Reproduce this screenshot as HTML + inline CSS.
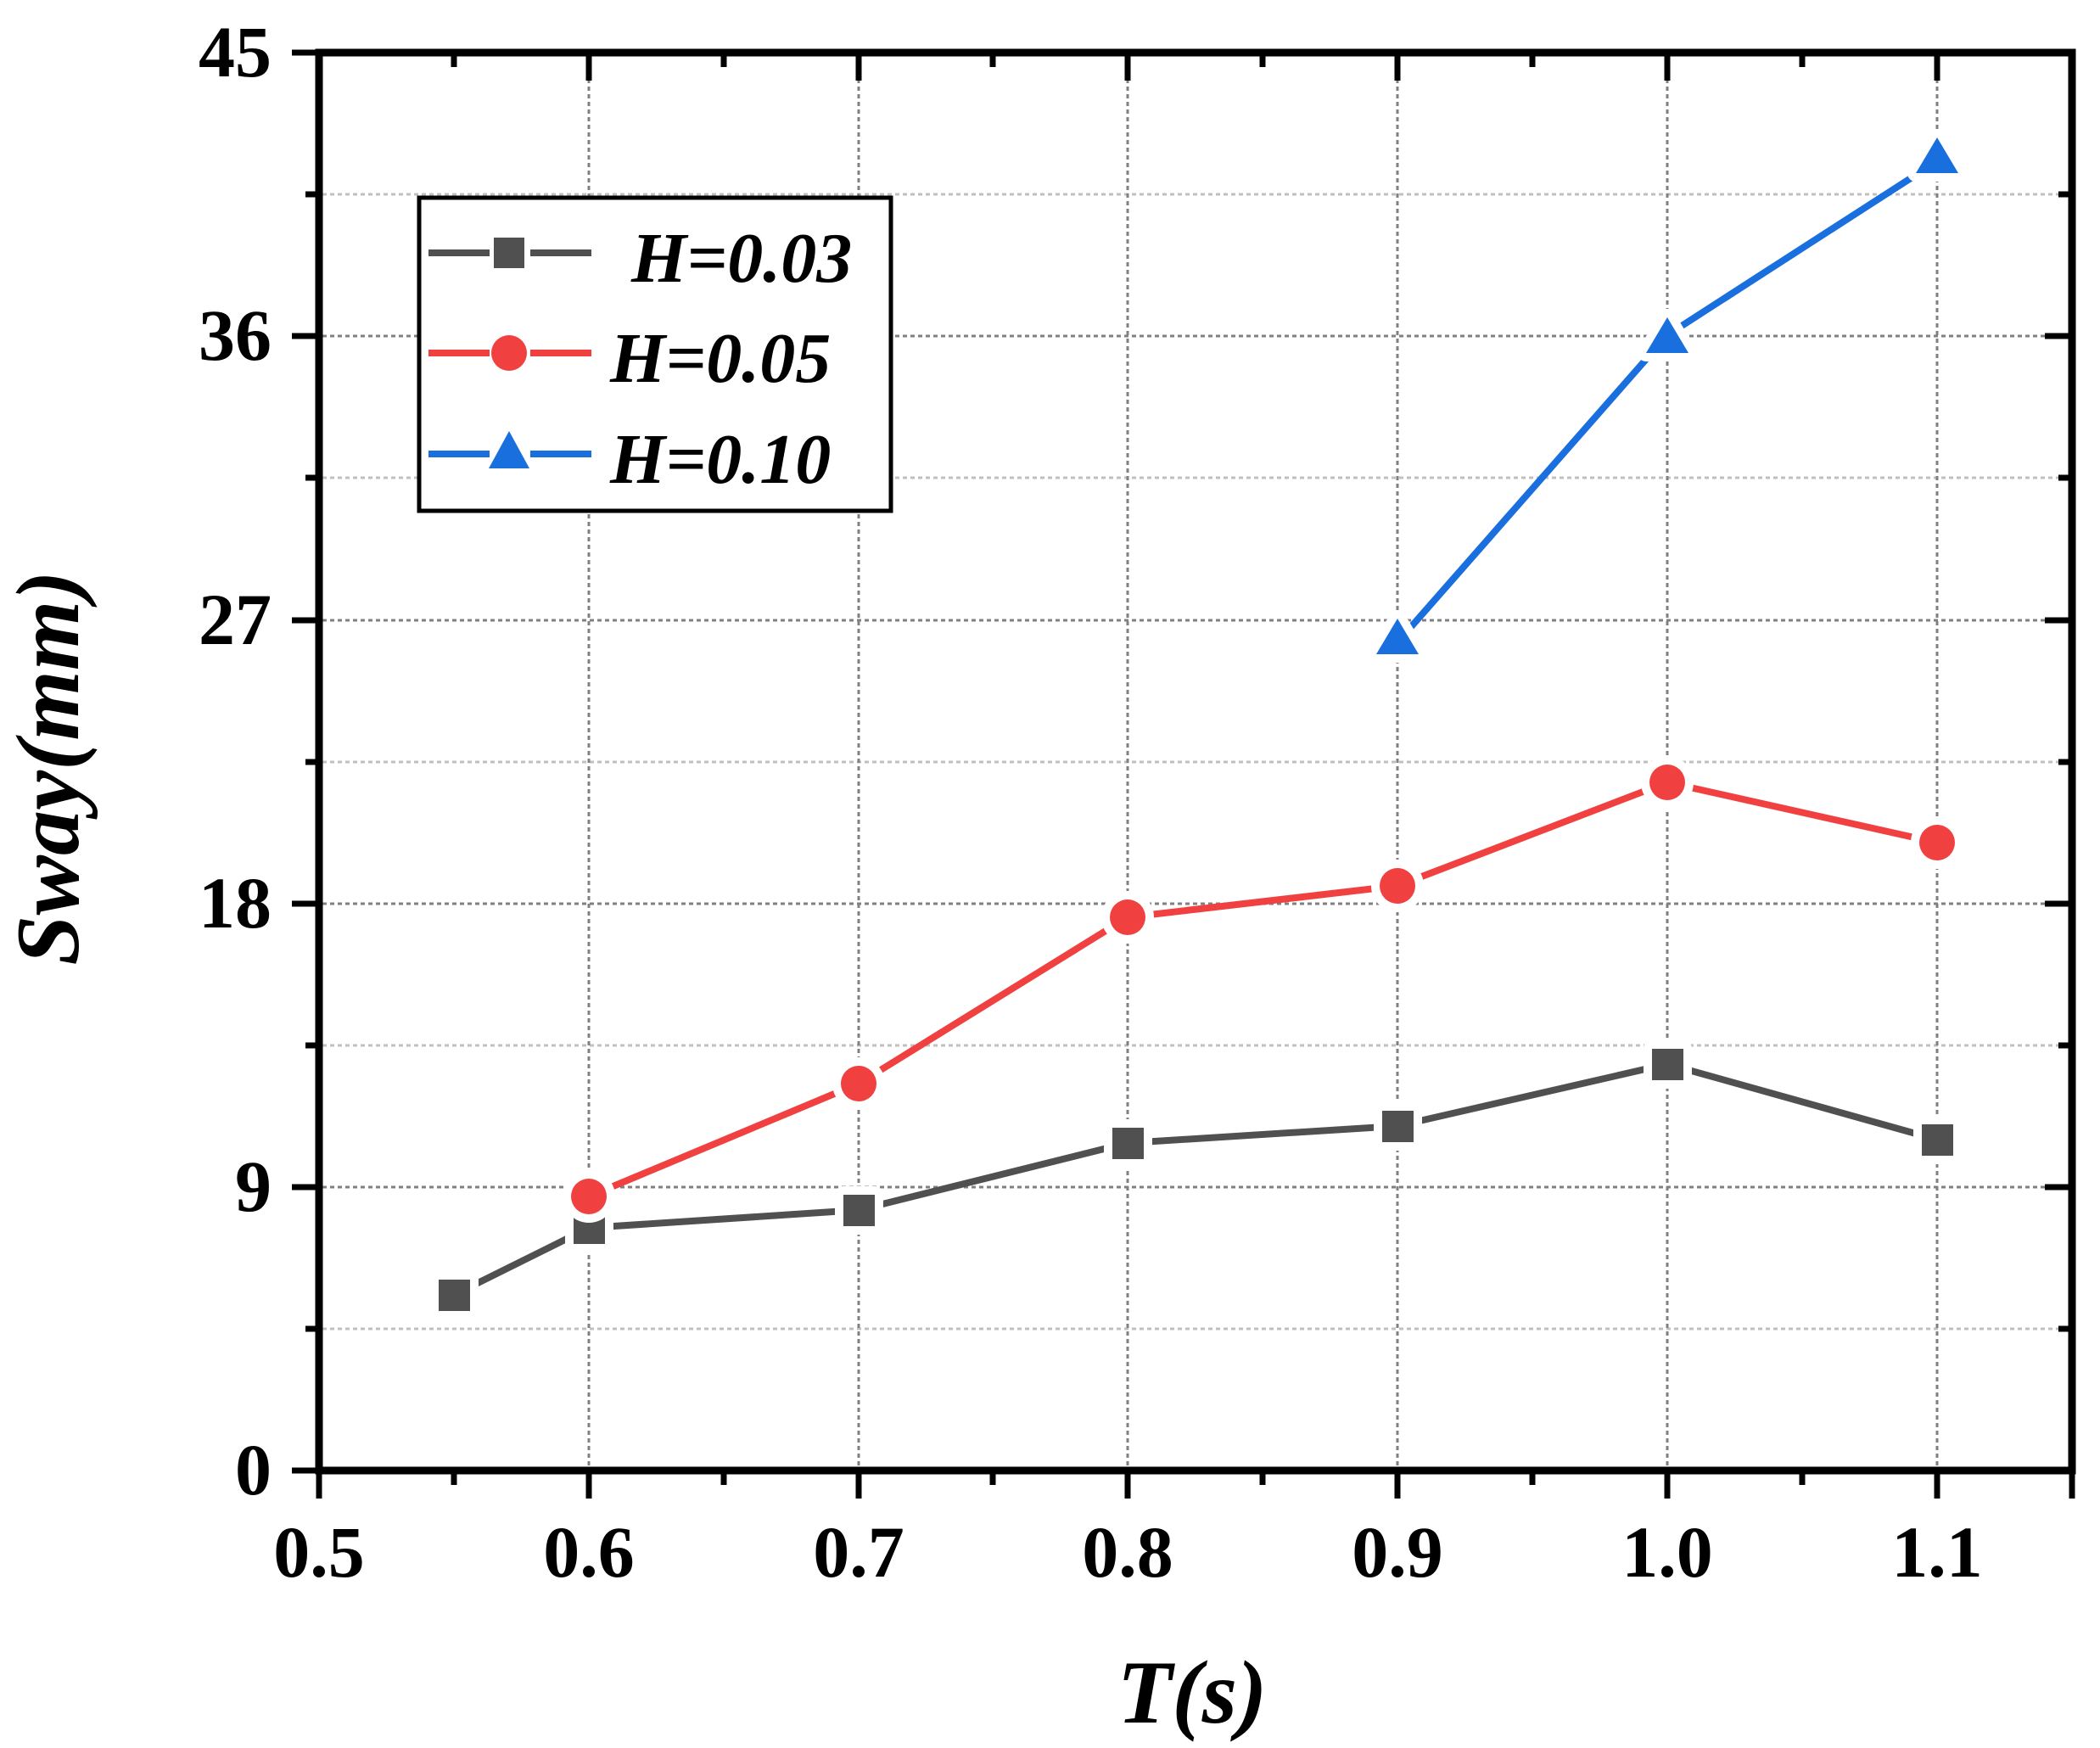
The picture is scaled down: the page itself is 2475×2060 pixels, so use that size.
<!DOCTYPE html>
<html><head><meta charset="utf-8"><style>html,body{margin:0;padding:0;background:#fff}
svg text{font-family:"Liberation Serif","Times New Roman",serif;font-weight:bold}</style></head>
<body>
<svg width="2475" height="2055" viewBox="0 0 2475 2055" xmlns="http://www.w3.org/2000/svg">
<g stroke-width="3" stroke-dasharray="5,4">
<g stroke="#c0c0c0">
<line x1="380" x2="2436" y1="229" y2="229"/>
<line x1="380" x2="2436" y1="563" y2="563"/>
<line x1="380" x2="2436" y1="898" y2="898"/>
<line x1="380" x2="2436" y1="1232" y2="1232"/>
<line x1="380" x2="2436" y1="1566" y2="1566"/>
</g>
<g stroke="#808080">
<line x1="380" x2="2436" y1="396" y2="396"/>
<line x1="380" x2="2436" y1="731" y2="731"/>
<line x1="380" x2="2436" y1="1065" y2="1065"/>
<line x1="380" x2="2436" y1="1399" y2="1399"/>
<line x1="694" x2="694" y1="66" y2="1729"/>
<line x1="1012" x2="1012" y1="66" y2="1729"/>
<line x1="1329" x2="1329" y1="66" y2="1729"/>
<line x1="1647" x2="1647" y1="66" y2="1729"/>
<line x1="1965" x2="1965" y1="66" y2="1729"/>
<line x1="2283" x2="2283" y1="66" y2="1729"/>
</g>
</g>
<rect x="376" y="62" width="2066" height="1671" fill="none" stroke="#000" stroke-width="9"/>
<g stroke="#000" stroke-width="7">
<line x1="376" x2="376" y1="1733" y2="1766"/><line x1="694" x2="694" y1="1733" y2="1766"/><line x1="1012" x2="1012" y1="1733" y2="1766"/><line x1="1329" x2="1329" y1="1733" y2="1766"/><line x1="1647" x2="1647" y1="1733" y2="1766"/><line x1="1965" x2="1965" y1="1733" y2="1766"/><line x1="2283" x2="2283" y1="1733" y2="1766"/><line x1="2442" x2="2442" y1="1733" y2="1766"/>
<line x1="535" x2="535" y1="1733" y2="1750"/><line x1="853" x2="853" y1="1733" y2="1750"/><line x1="1170" x2="1170" y1="1733" y2="1750"/><line x1="1488" x2="1488" y1="1733" y2="1750"/><line x1="1806" x2="1806" y1="1733" y2="1750"/><line x1="2124" x2="2124" y1="1733" y2="1750"/>
<line x1="694" x2="694" y1="62" y2="95"/><line x1="1012" x2="1012" y1="62" y2="95"/><line x1="1329" x2="1329" y1="62" y2="95"/><line x1="1647" x2="1647" y1="62" y2="95"/><line x1="1965" x2="1965" y1="62" y2="95"/><line x1="2283" x2="2283" y1="62" y2="95"/>
<line x1="535" x2="535" y1="62" y2="79"/><line x1="853" x2="853" y1="62" y2="79"/><line x1="1170" x2="1170" y1="62" y2="79"/><line x1="1488" x2="1488" y1="62" y2="79"/><line x1="1806" x2="1806" y1="62" y2="79"/><line x1="2124" x2="2124" y1="62" y2="79"/>
<line x1="344" x2="376" y1="62" y2="62"/><line x1="344" x2="376" y1="396" y2="396"/><line x1="344" x2="376" y1="731" y2="731"/><line x1="344" x2="376" y1="1065" y2="1065"/><line x1="344" x2="376" y1="1399" y2="1399"/><line x1="344" x2="376" y1="1733" y2="1733"/>
<line x1="360" x2="376" y1="229" y2="229"/><line x1="360" x2="376" y1="563" y2="563"/><line x1="360" x2="376" y1="898" y2="898"/><line x1="360" x2="376" y1="1232" y2="1232"/><line x1="360" x2="376" y1="1566" y2="1566"/>
<line x1="2410" x2="2442" y1="396" y2="396"/><line x1="2410" x2="2442" y1="731" y2="731"/><line x1="2410" x2="2442" y1="1065" y2="1065"/><line x1="2410" x2="2442" y1="1399" y2="1399"/>
<line x1="2426" x2="2442" y1="229" y2="229"/><line x1="2426" x2="2442" y1="563" y2="563"/><line x1="2426" x2="2442" y1="898" y2="898"/><line x1="2426" x2="2442" y1="1232" y2="1232"/><line x1="2426" x2="2442" y1="1566" y2="1566"/>
</g>
<g font-size="86" text-anchor="end">
<text x="320" y="90">45</text><text x="320" y="424">36</text><text x="320" y="759">27</text><text x="320" y="1093">18</text><text x="320" y="1427">9</text><text x="320" y="1761">0</text>
</g>
<g font-size="86" text-anchor="middle">
<text x="376" y="1858">0.5</text><text x="694" y="1858">0.6</text><text x="1012" y="1858">0.7</text><text x="1329" y="1858">0.8</text><text x="1647" y="1858">0.9</text><text x="1965" y="1858">1.0</text><text x="2283" y="1858">1.1</text>
</g>
<text x="1405" y="2030" font-size="106" font-style="italic" text-anchor="middle">T(s)</text>
<text transform="translate(92,905) rotate(-90)" font-size="106" font-style="italic" text-anchor="middle">Sway(mm)</text>
<g fill="none" stroke-width="8">
<polyline stroke="#505050" points="535,1526 694,1447 1012,1426 1329,1347 1647,1327 1965,1254 2283,1343"/>
<polyline stroke="#f04040" points="694,1410 1012,1277 1329,1081 1647,1044 1965,922 2283,993"/>
<polyline stroke="#1a6fdf" points="1647,757 1965,395 2283,190"/>
</g>
<g stroke="#fff" stroke-width="20" paint-order="stroke" stroke-linejoin="round">
<g fill="#505050">
<rect x="517" y="1508" width="37" height="37"/><rect x="676" y="1429" width="37" height="37"/><rect x="994" y="1408" width="37" height="37"/><rect x="1311" y="1329" width="37" height="37"/><rect x="1629" y="1309" width="37" height="37"/><rect x="1947" y="1236" width="37" height="37"/><rect x="2265" y="1325" width="37" height="37"/>
</g>
<g fill="#f04040">
<circle cx="694" cy="1410" r="21"/><circle cx="1012" cy="1277" r="21"/><circle cx="1329" cy="1081" r="21"/><circle cx="1647" cy="1044" r="21"/><circle cx="1965" cy="922" r="21"/><circle cx="2283" cy="993" r="21"/>
</g>
<g fill="#1a6fdf">
<polygon points="1647,729 1622,771 1672,771"/><polygon points="1965,374 1940,416 1990,416"/><polygon points="2283,162 2258,204 2308,204"/>
</g>
</g>
<rect x="494" y="233" width="556" height="369" fill="#fff" stroke="#000" stroke-width="5"/>
<g stroke-width="8">
<line x1="505" x2="577" y1="298" y2="298" stroke="#505050"/><line x1="625" x2="697" y1="298" y2="298" stroke="#505050"/>
<line x1="505" x2="577" y1="416" y2="416" stroke="#f04040"/><line x1="625" x2="697" y1="416" y2="416" stroke="#f04040"/>
<line x1="505" x2="577" y1="535" y2="535" stroke="#1a6fdf"/><line x1="625" x2="697" y1="535" y2="535" stroke="#1a6fdf"/>
</g>
<rect x="582" y="280" width="36" height="36" fill="#505050"/>
<circle cx="600" cy="416" r="21" fill="#f04040"/>
<polygon points="600,508 576,552 624,552" fill="#1a6fdf"/>
<g font-size="84" font-style="italic">
<text x="744" y="332">H=0.03</text>
<text x="719" y="450">H=0.05</text>
<text x="719" y="569">H=0.10</text>
</g>
</svg>
</body></html>
